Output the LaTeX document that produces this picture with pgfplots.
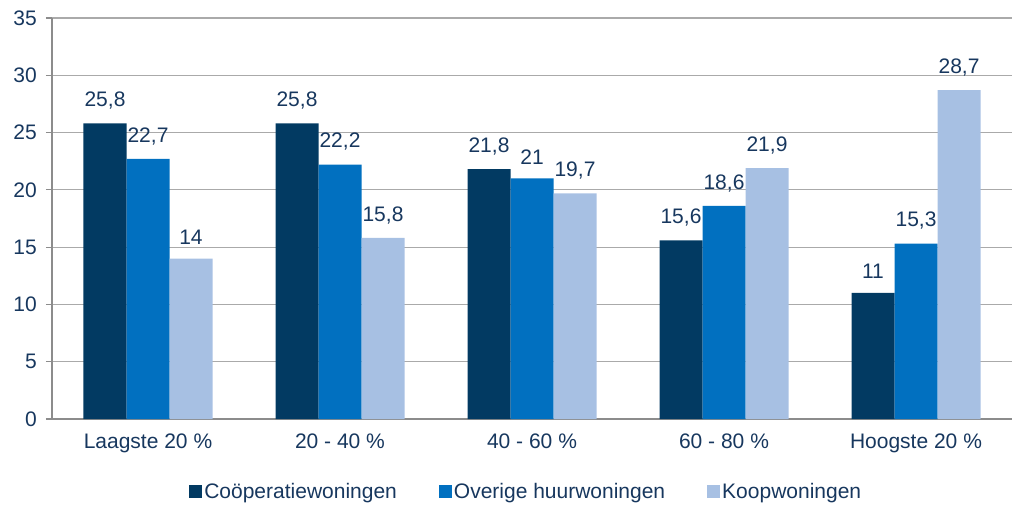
\documentclass[border=0pt]{standalone}
\usepackage{pgfplots}
\pgfplotsset{compat=1.18}
\usepackage{fontspec}
\setmainfont{Liberation Sans}
\definecolor{txt}{RGB}{23,55,94}
\definecolor{cA}{RGB}{2,58,98}
\definecolor{cB}{RGB}{1,112,192}
\definecolor{cC}{RGB}{167,192,227}
\definecolor{gridc}{RGB}{170,170,170}
\definecolor{axc}{RGB}{140,140,140}
\newcommand{\fs}{\fontsize{21pt}{25pt}\selectfont}
\begin{document}
\fs
\begin{tikzpicture}
\useasboundingbox (-52pt,-85pt) rectangle (962pt,419pt);
\begin{axis}[
    scale only axis,
    width=960pt, height=401pt,
    ybar=0pt, bar width=43pt,
    xmin=-0.5, xmax=4.5,
    ymin=0, ymax=35,
    ytick={0,5,...,35},
    xtick={0,1,2,3,4},
    xticklabels={Laagste 20 \%, 20 - 40 \%, 40 - 60 \%, 60 - 80 \%, Hoogste 20 \%},
    extra x ticks={-0.5,0.5,1.5,2.5,3.5,4.5},
    extra x tick labels={},
    extra x tick style={major tick length=6pt, tick style={axc, line width=1.2pt}},
    x tick style={draw=none},
    y tick style={axc, line width=1.2pt},
    major tick length=6pt,
    tick align=outside,
    axis x line*=bottom, axis y line*=left,
    axis line style={axc, line width=1.2pt, -},
    ymajorgrids, grid style={gridc, line width=1.2pt},
    tick label style={font=\fs, text=txt},
    yticklabel style={xshift=-2pt},
    xticklabel style={yshift=-2pt},
    /pgf/number format/assume math mode=true,
    /pgf/number format/use comma,
    nodes near coords,
    nodes near coords style={font=\fs, text=txt, yshift=7pt},
    legend style={at={(0.494,-0.182)}, anchor=center, draw=none, fill=none,
      legend columns=-1, font=\fs, text=txt,
      /tikz/every even column/.append style={column sep=40pt}},
    legend image code/.code={\fill[#1] (0pt,-6.5pt) rectangle (13pt,6.5pt);},
    ]
\addplot[draw=none, fill=cA] coordinates {(0,25.8) (1,25.8) (2,21.8) (3,15.6) (4,11)};
\addplot[draw=none, fill=cB] coordinates {(0,22.7) (1,22.2) (2,21) (3,18.6) (4,15.3)};
\addplot[draw=none, fill=cC] coordinates {(0,14) (1,15.8) (2,19.7) (3,21.9) (4,28.7)};
\legend{Coöperatiewoningen, Overige huurwoningen, Koopwoningen}
\end{axis}
\end{tikzpicture}
\end{document}
